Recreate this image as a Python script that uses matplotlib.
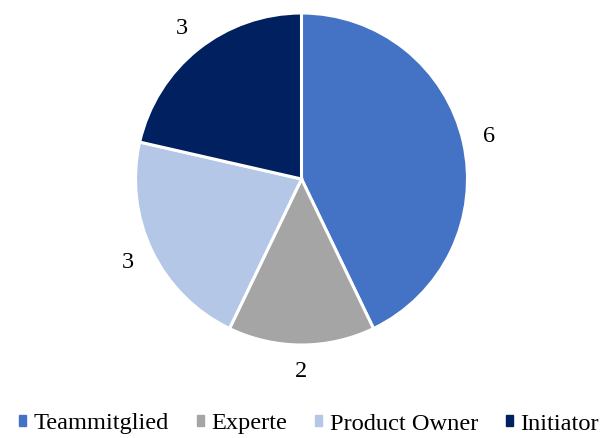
import matplotlib
matplotlib.use('Agg')
import matplotlib.pyplot as plt
import matplotlib.patches as mpatches

# ── data ──
labels = ['Teammitglied', 'Experte', 'Product Owner', 'Initiator']
values = [6, 2, 3, 3]
colors = ['#4472C4', '#A5A5A5', '#B4C7E7', '#002060']

plt.rcParams['font.family'] = ['Liberation Serif', 'DejaVu Serif']

W, H = 602, 438
fig = plt.figure(figsize=(W / 100, H / 100), dpi=100)

cx, cy, r = 301.5, 179, 166
ax = fig.add_axes([(cx - r) / W, (H - cy - r) / H, 2 * r / W, 2 * r / H])
wedges, texts = ax.pie(values, colors=colors, startangle=90, counterclock=False,
                       radius=1, labels=[str(v) for v in values],
                       labeldistance=1.16,
                       wedgeprops=dict(edgecolor='white', linewidth=2.2),
                       textprops=dict(fontsize=17.5, color='black'))
for t in texts:
    t.set_ha('center')
    t.set_va('center')
ax.set_xlim(-1, 1)
ax.set_ylim(-1, 1)
ax.set_aspect('equal')
ax.axis('off')

handles = [mpatches.Patch(color=c, label=l) for l, c in zip(labels, colors)]
fig.legend(handles=handles, loc='center', bbox_to_anchor=(0.5 + 8 / W, 1 - 424 / H),
           ncol=4, frameon=False, fontsize=17.6, handlelength=0.29, handleheight=0.29,
           handletextpad=0.3, columnspacing=1.15, borderpad=0, borderaxespad=0)

fig.savefig('out.png', dpi=100)
